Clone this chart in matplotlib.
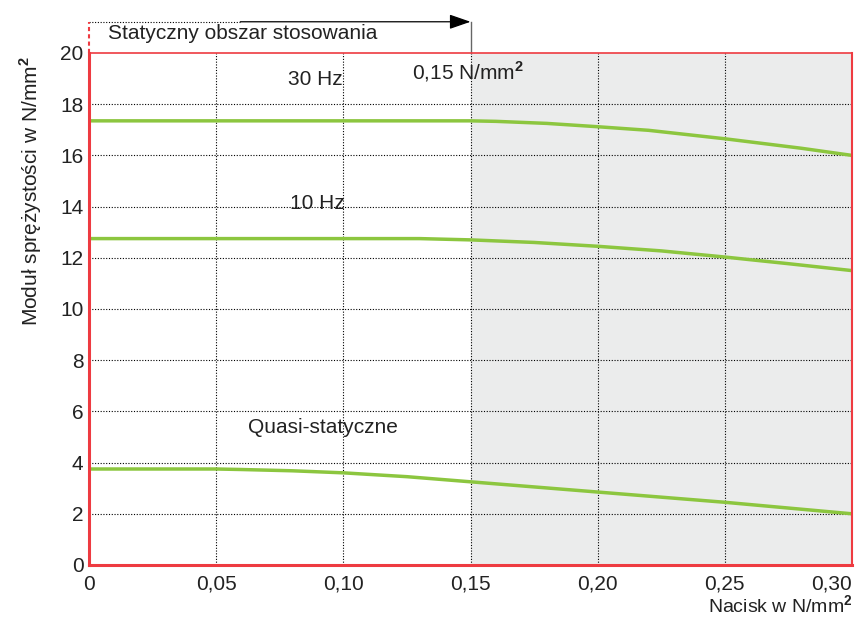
import matplotlib
matplotlib.use("Agg")
import matplotlib.pyplot as plt

plt.rcParams['font.family'] = ['Liberation Sans', 'DejaVu Sans']
plt.rcParams['mathtext.fontset'] = 'custom'
plt.rcParams['mathtext.rm'] = 'Liberation Sans'
plt.rcParams['mathtext.bf'] = 'Liberation Sans:bold'

# data
x_30 = [0, 0.05, 0.10, 0.15, 0.16, 0.18, 0.20, 0.22, 0.25, 0.28, 0.30]
y_30 = [17.35, 17.35, 17.35, 17.35, 17.33, 17.25, 17.12, 16.98, 16.65, 16.28, 16.0]
x_10 = [0, 0.05, 0.10, 0.13, 0.15, 0.175, 0.20, 0.225, 0.25, 0.275, 0.30]
y_10 = [12.75, 12.75, 12.75, 12.75, 12.7, 12.6, 12.45, 12.27, 12.03, 11.77, 11.5]
x_q = [0, 0.05, 0.06, 0.08, 0.10, 0.125, 0.15, 0.20, 0.25, 0.30]
y_q = [3.75, 3.75, 3.73, 3.68, 3.6, 3.45, 3.25, 2.85, 2.45, 2.0]

x_ticks = [0, 0.05, 0.10, 0.15, 0.20, 0.25, 0.30]
x_ticklabels = ['0', '0,05', '0,10', '0,15', '0,20', '0,25', '0,30']
y_ticks = [0, 2, 4, 6, 8, 10, 12, 14, 16, 18, 20]

series_labels = ['30 Hz', '10 Hz', 'Quasi-statyczne']

red = '#ee3b41'
green = '#8cc63f'
txt = '#222222'
FS = 15

fig = plt.figure(figsize=(8.65, 6.17), dpi=100)
ax = fig.add_axes([89/865, 52/617, 763/865, 512/617])

ax.axvspan(0.15, 0.30, color='#ebecec', zorder=0)
for xv in x_ticks[1:-1]:
    ax.axvline(xv, color='black', lw=0.8, ls=(0, (1, 1.5)), zorder=1)
for yv in y_ticks[1:-1]:
    ax.axhline(yv, color='black', lw=0.8, ls=(0, (1, 1.5)), zorder=1)

for xs, ys in [(x_30, y_30), (x_10, y_10), (x_q, y_q)]:
    ax.plot(xs, ys, color=green, lw=2.5, solid_capstyle='butt', zorder=3)

ax.set_xlim(0, 0.30)
ax.set_ylim(0, 20)
ax.set_xticks(x_ticks)
ax.set_xticklabels(x_ticklabels)
ax.set_yticks(y_ticks)
ax.tick_params(length=0, labelsize=FS, colors=txt)
ax.tick_params(axis='y', pad=4)
ax.tick_params(axis='x', pad=7)
xl = ax.get_xticklabels()
xl[-1].set_ha('right')

for side, lw in [('left', 2.2), ('bottom', 2.2), ('top', 1.2), ('right', 1.5)]:
    ax.spines[side].set_color(red)
    ax.spines[side].set_linewidth(lw)
    ax.spines[side].set_zorder(4)

# series labels
ax.text(0.0783, 18.95, series_labels[0], fontsize=FS, color=txt, va='center')
ax.text(0.0790, 14.14, series_labels[1], fontsize=FS, color=txt, va='center')
ax.text(0.0626, 5.39, series_labels[2], fontsize=FS, color=txt, va='center')
ax.text(0.1270, 19.26, r'0,15 N/mm$^{\mathbf{2}}$', fontsize=FS, color=txt, va='center')

# static area annotation above plot
ytop = 21.22
ax.plot([0, 0], [20, ytop], color=red, lw=1.5, ls=(0, (2, 1.5)), clip_on=False, zorder=5)
ax.plot([0, 0.0595], [ytop, ytop], color='black', lw=0.8, ls=(0, (1, 1.5)), clip_on=False)
ax.plot([0.15, 0.15], [20, ytop], color='#666666', lw=1.0, clip_on=False)
ax.annotate('', xy=(0.15, ytop), xytext=(0.0595, ytop), annotation_clip=False,
            arrowprops=dict(arrowstyle='-|>,head_length=1.3,head_width=0.45',
                            color='black', lw=0.9, shrinkA=0, shrinkB=0))
ax.text(0.0075, 20.78, 'Statyczny obszar stosowania', fontsize=FS, color=txt, va='center')

fig.text(31/865, 1 - 191/617, r'Moduł sprężystości w N/mm$^{\mathbf{2}}$', fontsize=FS,
         color=txt, rotation=90, ha='center', va='center')
fig.text(853/865, 1 - 606/617, r'Nacisk w N/mm$^{\mathbf{2}}$', fontsize=14,
         color=txt, ha='right', va='center')

fig.savefig('out.png', dpi=100)
